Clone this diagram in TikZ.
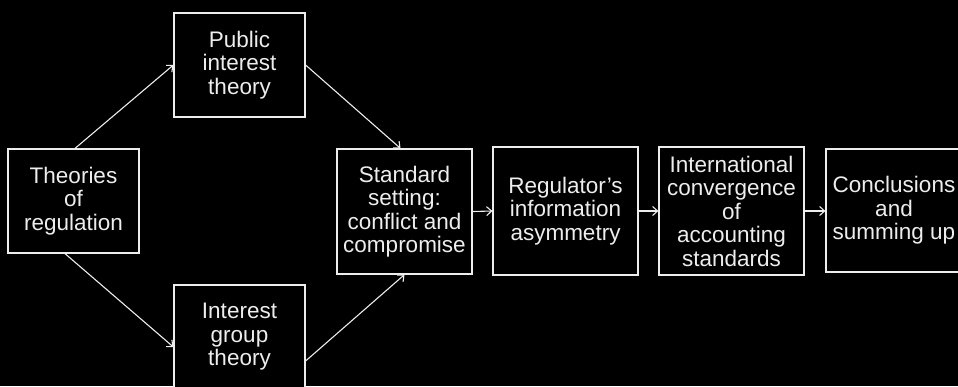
\documentclass[tikz,border=0pt]{standalone}
\usepackage{fontspec}
\setmainfont{Liberation Sans}
\usetikzlibrary{arrows.meta}
\definecolor{fg}{HTML}{EDEDED}
\tikzset{
  box/.style={draw=fg, line width=1.2pt, fill=black, text=fg, align=center,
    inner sep=0pt, font=\fontsize{22.5}{23.5}\selectfont},
  conn/.style={draw=fg, line width=1.1pt, -{Straight Barb[length=5pt,width=9pt,line width=1.1pt]}}
}
\begin{document}
\begin{tikzpicture}[x=1pt,y=-1pt]
\fill[black] (0,0) rectangle (958,386);
\useasboundingbox (0,0) rectangle (958,386);
\clip (0,0) rectangle (958,386);
\node[box, minimum width=131pt, minimum height=104pt] (th) at (73.5,201) {Theories\\of\\regulation};
\node[box, minimum width=131pt, minimum height=104pt] (pub) at (239.5,65) {Public\\interest\\theory};
\node[box, minimum width=131pt, minimum height=104pt] (ig) at (239.5,337) {Interest\\group\\theory};
\node[box, minimum width=135pt, minimum height=125pt] (st) at (404.5,211.5) {Standard\\setting:\\conflict and\\compromise};
\node[box, minimum width=145pt, minimum height=128pt] (rg) at (565.5,211) {Regulator’s\\information\\asymmetry};
\node[box, minimum width=145pt, minimum height=128pt] (ic) at (731.5,211) {International\\convergence\\of\\accounting\\standards};
\node[box, minimum width=136pt, minimum height=123pt] (cs) at (894,210.5) {Conclusions\\and\\summing up};
\draw[conn] ([xshift=1.5pt]th.north) -- (pub.west);
\draw[conn] ([xshift=-8.5pt]th.south) -- ([yshift=-10pt]ig.west);
\draw[conn] (pub.east) -- ([xshift=-4pt]st.north);
\draw[conn] ([yshift=-24pt]ig.east) -- (st.south);
\draw[conn] (st.east) -- (rg.west);
\draw[conn] (rg.east) -- (ic.west);
\draw[conn] (ic.east) -- (ic.east -| cs.west);
\end{tikzpicture}
\end{document}
